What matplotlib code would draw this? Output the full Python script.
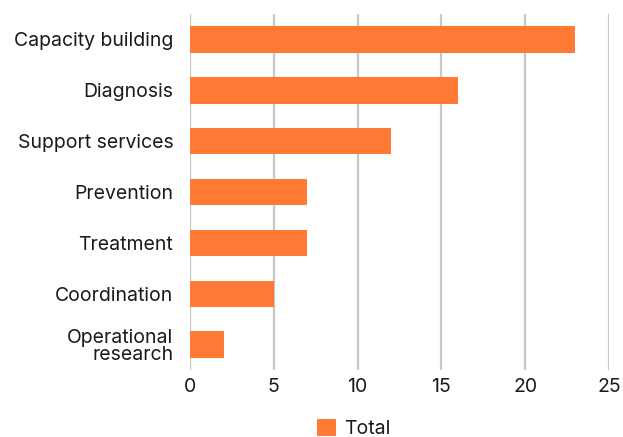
import matplotlib
matplotlib.use("Agg")
import matplotlib.pyplot as plt
import numpy as np

categories = ["Capacity building", "Diagnosis", "Support services", "Prevention",
              "Treatment", "Coordination", "Operational\nresearch"]
totals = [23, 16, 12, 7, 7, 5, 2]
xticks = [0, 5, 10, 15, 20, 25]

plt.rcParams["font.family"] = ["Inter", "DejaVu Sans"]
color = "#FF7A35"
text_color = "#1a1a1a"
fs = 14

fig = plt.figure(figsize=(6.23, 4.37), dpi=100)
ax = fig.add_axes([0.305, 0.153, 0.6725, 0.815])

y = np.arange(len(categories))
ax.barh(y, totals, height=0.52, color=color, label="Total", zorder=3)
ax.set_yticks(y)
ax.set_yticklabels(categories, fontsize=fs, color=text_color, linespacing=0.95)
ax.set_ylim(len(categories) - 0.5, -0.5)
ax.set_xlim(0, 25)
ax.set_xticks(xticks)
ax.set_xticklabels([str(t) for t in xticks], fontsize=fs, color=text_color)

for s in ax.spines.values():
    s.set_visible(False)
ax.grid(axis="x", color="#c8c8c8", linewidth=1.6, zorder=0)
ax.tick_params(length=0)
ax.tick_params(axis="x", pad=6)
ax.tick_params(axis="y", pad=12)

ax.legend(loc="center", bbox_to_anchor=(0.39, -0.163), frameon=False,
          fontsize=fs, handlelength=1.0, handleheight=1.0, handletextpad=0.4,
          labelcolor=text_color)

fig.savefig("out.png", dpi=100)
